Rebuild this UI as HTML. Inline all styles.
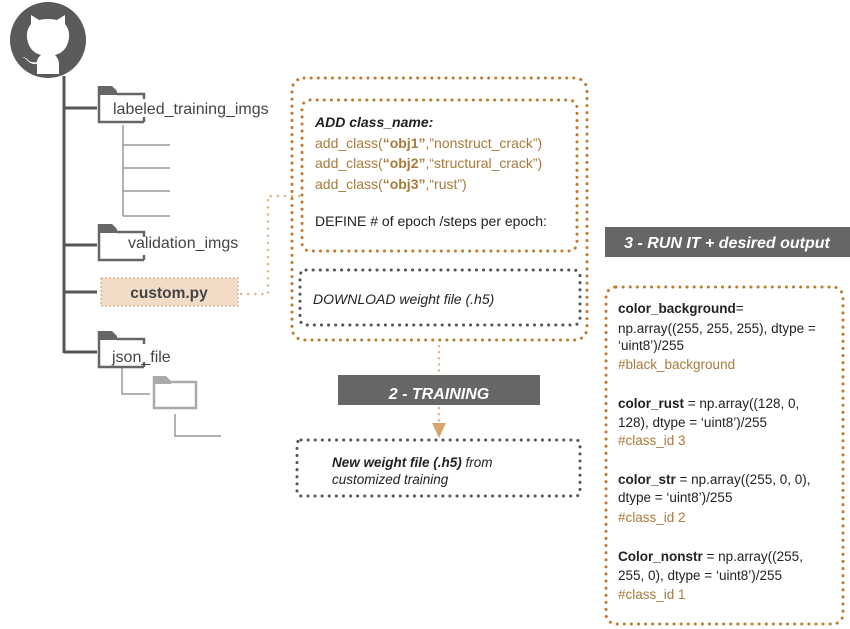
<!DOCTYPE html>
<html><head><meta charset="utf-8"><style>
html,body{margin:0;padding:0;background:#fff;}
svg{display:block;}
text{font-family:"Liberation Sans",sans-serif;}
</style></head><body>
<svg width="850" height="629" viewBox="0 0 850 629" xmlns="http://www.w3.org/2000/svg">
<!-- github logo -->
<circle cx="48" cy="40" r="38" fill="#5a5a5a"/>
<path d="M31 24 L31 15 L39 20 Q48 18 57 20 L65 15 L65 24 Q70 30 69 38 Q67 52 55 55 Q59 59 59 64 L59 74 L37 74 L37 64 Q31 65 27 60 Q25 58 22 57 Q26 57 29 61 Q32 63 37 62 Q37 58 41 55 Q29 52 27 38 Q26 30 31 24 Z" fill="#fff"/>
<line x1="47" y1="74" x2="47" y2="79" stroke="#fff" stroke-width="0"/>
<!-- main tree -->
<g stroke="#555" stroke-width="3" fill="none">
<line x1="64" y1="76" x2="64" y2="353"/>
<line x1="64" y1="108" x2="97" y2="108"/>
<line x1="64" y1="245" x2="97" y2="245"/>
<line x1="64" y1="292" x2="97" y2="292"/>
<line x1="64" y1="352" x2="97" y2="352"/>
</g>
<g stroke="#999" stroke-width="1.5" fill="none">
<line x1="123" y1="125" x2="123" y2="216"/>
<line x1="123" y1="145" x2="170" y2="145"/>
<line x1="123" y1="168" x2="170" y2="168"/>
<line x1="123" y1="191" x2="170" y2="191"/>
<line x1="123" y1="216" x2="170" y2="216"/>
<polyline points="122,368 122,394 150,394"/>
<polyline points="175,414 175,436 221,436"/>
</g>
<!-- folders -->
<g>
<path d="M99 86 H112 L117 91 V95 H100 Z" fill="#666"/>
<path d="M99 86 V122 H144 M117 94 H144 V99 M144 117 V122" stroke="#666" stroke-width="2.5" fill="none"/>
</g>
<g transform="translate(0,138)">
<path d="M99 86 H112 L117 91 V95 H100 Z" fill="#666"/>
<path d="M99 86 V122 H144 M117 94 H144 V99 M144 117 V122" stroke="#666" stroke-width="2.5" fill="none"/>
</g>
<g transform="translate(0,245)">
<path d="M99 86 H112 L117 91 V95 H100 Z" fill="#666"/>
<path d="M99 86 V122 H144 M117 94 H144 V99 M144 117 V122" stroke="#666" stroke-width="2.5" fill="none"/>
</g>
<g>
<path d="M154 376 H166 L171 381 V384 H155 Z" fill="#aaa"/>
<path d="M154 376 V408 H196 V382 H171" stroke="#aaa" stroke-width="2.5" fill="none"/>
</g>
<text x="113" y="114" font-size="16" fill="#444">labeled_training_imgs</text>
<text x="128" y="248" font-size="16" fill="#444">validation_imgs</text>
<text x="112" y="362" font-size="16" fill="#444">json_file</text>
<!-- custom.py -->
<rect x="101" y="278" width="137" height="28" fill="#f2dcc8" stroke="#d9b89a" stroke-width="1.5" stroke-dasharray="2 2"/>
<text x="169" y="298" font-size="15.5" font-weight="bold" fill="#444" text-anchor="middle">custom.py</text>
<polyline points="241,294 268,294 268,196 300,196" fill="none" stroke="#e0b890" stroke-width="2.5" stroke-dasharray="0.1 7" stroke-linecap="round"/>
<!-- orange dotted boxes -->
<rect x="292" y="78" width="295" height="262" rx="12" fill="none" stroke="#c07a30" stroke-width="3" stroke-dasharray="0.1 7" stroke-linecap="round"/>
<rect x="302" y="100" width="275" height="151" rx="8" fill="none" stroke="#c07a30" stroke-width="3" stroke-dasharray="0.1 7" stroke-linecap="round"/>
<rect x="300" y="270" width="280" height="55" rx="6" fill="none" stroke="#555" stroke-width="3" stroke-dasharray="0.1 7" stroke-linecap="round"/>
<text x="315" y="127" font-size="14" font-style="italic" font-weight="bold" fill="#222">ADD class_name:</text>
<text x="315" y="148" font-size="14" fill="#a87a3a">add_class(<tspan font-weight="bold">“obj1”</tspan>,”nonstruct_crack”)</text>
<text x="315" y="168" font-size="14" fill="#a87a3a">add_class(<tspan font-weight="bold">“obj2”</tspan>,“structural_crack”)</text>
<text x="315" y="189" font-size="14" fill="#a87a3a">add_class(<tspan font-weight="bold">“obj3”</tspan>,“rust”)</text>
<text x="315" y="226" font-size="14" fill="#222">DEFINE # of epoch /steps per epoch:</text>
<text x="313" y="304" font-size="14" font-style="italic" fill="#222">DOWNLOAD weight  file (.h5)</text>
<!-- training -->
<line x1="439" y1="346" x2="439" y2="372" stroke="#e0b890" stroke-width="2.5" stroke-dasharray="0.1 6" stroke-linecap="round"/>
<line x1="439" y1="408" x2="439" y2="424" stroke="#e0b890" stroke-width="2.5" stroke-dasharray="0.1 6" stroke-linecap="round"/>
<rect x="338" y="375" width="202" height="30" fill="#666"/>
<text x="439" y="399" font-size="16" font-style="italic" font-weight="bold" fill="#fff" text-anchor="middle">2 - TRAINING</text>
<polygon points="432,423 446,423 439,438" fill="#d9a56b"/>
<rect x="297" y="440" width="283" height="56" rx="4" fill="none" stroke="#555" stroke-width="3" stroke-dasharray="0.1 7" stroke-linecap="round"/>
<text x="332" y="467" font-size="13.5" font-style="italic" fill="#222"><tspan font-weight="bold">New weight file (.h5)</tspan> from</text>
<text x="332" y="484" font-size="13.5" font-style="italic" fill="#222">customized training</text>
<!-- run it -->
<rect x="605" y="227" width="245" height="30" fill="#666"/>
<text x="727" y="248" font-size="16" font-style="italic" font-weight="bold" fill="#fff" text-anchor="middle">3 - RUN IT + desired output</text>
<rect x="606" y="287" width="237" height="337" rx="10" fill="none" stroke="#c07a30" stroke-width="3" stroke-dasharray="0.1 7" stroke-linecap="round"/>
<g font-size="13.5" fill="#222">
<text x="618" y="313" font-weight="bold">color_background<tspan font-weight="normal">=</tspan></text>
<text x="618" y="333">np.array((255, 255, 255), dtype =</text>
<text x="618" y="350">‘uint8’)/255</text>
<text x="618" y="369" fill="#a87a3a">#black_background</text>
<text x="618" y="408"><tspan font-weight="bold">color_rust</tspan> = np.array((128, 0,</text>
<text x="618" y="427">128), dtype = ‘uint8’)/255</text>
<text x="618" y="445" fill="#a87a3a">#class_id 3</text>
<text x="618" y="484"><tspan font-weight="bold">color_str</tspan> = np.array((255, 0, 0),</text>
<text x="618" y="502">dtype = ‘uint8’)/255</text>
<text x="618" y="522" fill="#a87a3a">#class_id 2</text>
<text x="618" y="561"><tspan font-weight="bold">Color_nonstr</tspan> = np.array((255,</text>
<text x="618" y="580">255, 0), dtype = ‘uint8’)/255</text>
<text x="618" y="599" fill="#a87a3a">#class_id 1</text>
</g>
</svg>
</body></html>
